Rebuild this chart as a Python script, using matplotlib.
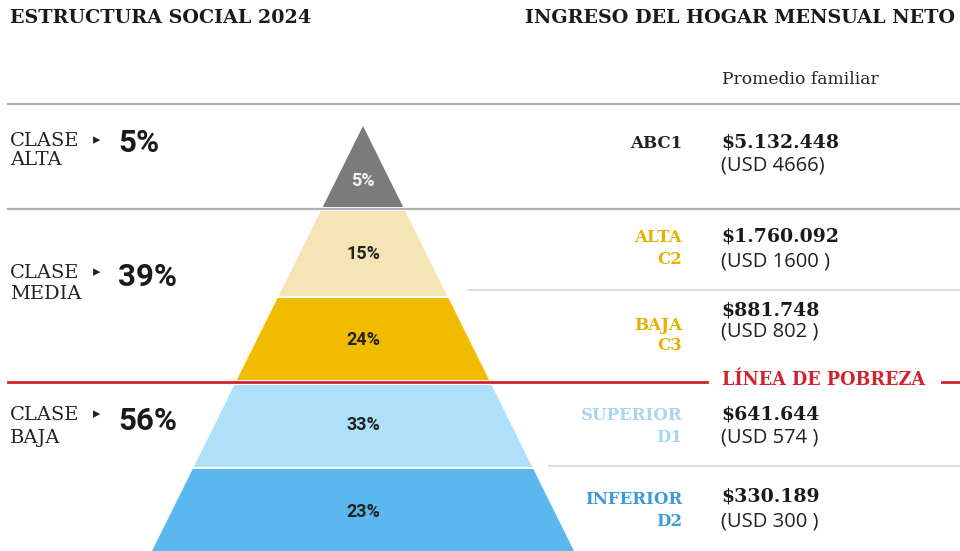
import matplotlib
matplotlib.use("Agg")
import matplotlib.pyplot as plt
from matplotlib.patches import Polygon

# ---- data ----
segments = ["ABC1", "ALTA\nC2", "BAJA\nC3", "SUPERIOR\nD1", "INFERIOR\nD2"]
shares = [5, 15, 24, 33, 23]
income_ars = ["$5.132.448", "$1.760.092", "$881.748", "$641.644", "$330.189"]
income_usd = ["(USD 4666)", "(USD 1600 )", "(USD 802 )", "(USD 574 )", "(USD 300 )"]
classes = ["CLASE\nALTA", "CLASE\nMEDIA", "CLASE\nBAJA"]
class_shares = [5, 39, 56]

# ---- style / layout ----
layer_colors = ["#7b7b7b", "#f6e4b6", "#f1bb00", "#aee0f9", "#5bb8ee"]
label_colors = ["#222222", "#e8b000", "#e8b000", "#a9d5ee", "#3d9ad6"]
pct_text_colors = ["#f2f2f2", "#222222", "#222222", "#222222", "#222222"]
layer_bounds = [(126, 207), (211, 296), (298, 380), (385, 467), (469, 551)]
layer_label_y = [181, 254, 340, 425, 512]
seg_label_y = [(143,), (238, 260), (325, 345), (416, 438), (500, 522)]
value_y = [(142, 165), (236, 261), (310, 332), (414, 438), (497, 522)]
class_y = [(141, 160), (273, 294), (415, 438)]
class_pct_y = [143, 277, 421]

apex_x, apex_y, slope = 363, 126, 0.4965
W, H = 960, 551

fig = plt.figure(figsize=(9.6, 5.51), dpi=100)
ax = fig.add_axes([0, 0, 1, 1])
ax.set_xlim(0, W)
ax.set_ylim(H, 0)
ax.axis("off")

serif = "DejaVu Serif"
sans = "Open Sans"
sansb = "Roboto"

# titles
ax.text(10, 18, "ESTRUCTURA SOCIAL 2024", family=serif, weight="heavy",
        fontsize=13.8, color="#1a1a1a", ha="left", va="center")
ax.text(955, 18, "INGRESO DEL HOGAR MENSUAL NETO", family=serif, weight="heavy",
        fontsize=13.8, color="#1a1a1a", ha="right", va="center")
ax.text(722, 80, "Promedio familiar", family=serif, fontsize=12.3,
        color="#222222", ha="left", va="center")

# separator lines
gray = "#b0b0b0"
ax.plot([8, 960], [104, 104], color=gray, lw=1.6, zorder=1)
ax.plot([8, 960], [209, 209], color=gray, lw=1.6, zorder=1)
ax.plot([468, 960], [290, 290], color="#d8d8d8", lw=1.3, zorder=1)
ax.plot([549, 960], [466, 466], color="#d8d8d8", lw=1.3, zorder=1)

# pyramid layers
for i, (top, bot) in enumerate(layer_bounds):
    ht = slope * (top - apex_y)
    hb = slope * (bot - apex_y)
    poly = Polygon([(apex_x - ht, top), (apex_x + ht, top),
                    (apex_x + hb, bot), (apex_x - hb, bot)],
                   closed=True, facecolor=layer_colors[i], edgecolor="none", zorder=2)
    ax.add_patch(poly)
    ax.text(apex_x, layer_label_y[i], f"{shares[i]}%", family=sansb, weight="bold",
            fontsize=13, color=pct_text_colors[i], ha="center", va="center", zorder=3)

# poverty line
red = "#d2232d"
ax.plot([8, 707], [382, 382], color=red, lw=2, zorder=4)
ax.plot([942, 960], [382, 382], color=red, lw=2, zorder=4)
ax.text(722, 380, "LÍNEA DE POBREZA", family=serif, weight="bold", fontsize=12.7,
        color=red, ha="left", va="center")

# right-side segment labels and incomes
for i, seg in enumerate(segments):
    for line, yy in zip(seg.split("\n"), seg_label_y[i]):
        ax.text(682, yy, line, family=serif, weight="bold", fontsize=12,
                color=label_colors[i], ha="right", va="center")
    ax.text(721, value_y[i][0], income_ars[i], family=serif, weight="bold",
            fontsize=13.6, color="#1a1a1a", ha="left", va="center")
    ax.text(721, value_y[i][1], income_usd[i], family=sans, fontsize=14.5,
            color="#222222", ha="left", va="center")

# left class labels
for i, cl in enumerate(classes):
    for line, yy in zip(cl.split("\n"), class_y[i]):
        ax.text(10, yy, line, family=serif, fontsize=14, color="#222222",
                ha="left", va="center")
    ax.text(97, class_y[i][0] - 1, "\u25B8", family="DejaVu Sans", fontsize=10.5,
            color="#222222", ha="center", va="center")
    ax.text(118, class_pct_y[i], f"{class_shares[i]}%", family=sansb, weight="bold",
            fontsize=22.5, color="#1a1a1a", ha="left", va="center")

fig.savefig("out.png", dpi=100, facecolor="white")
